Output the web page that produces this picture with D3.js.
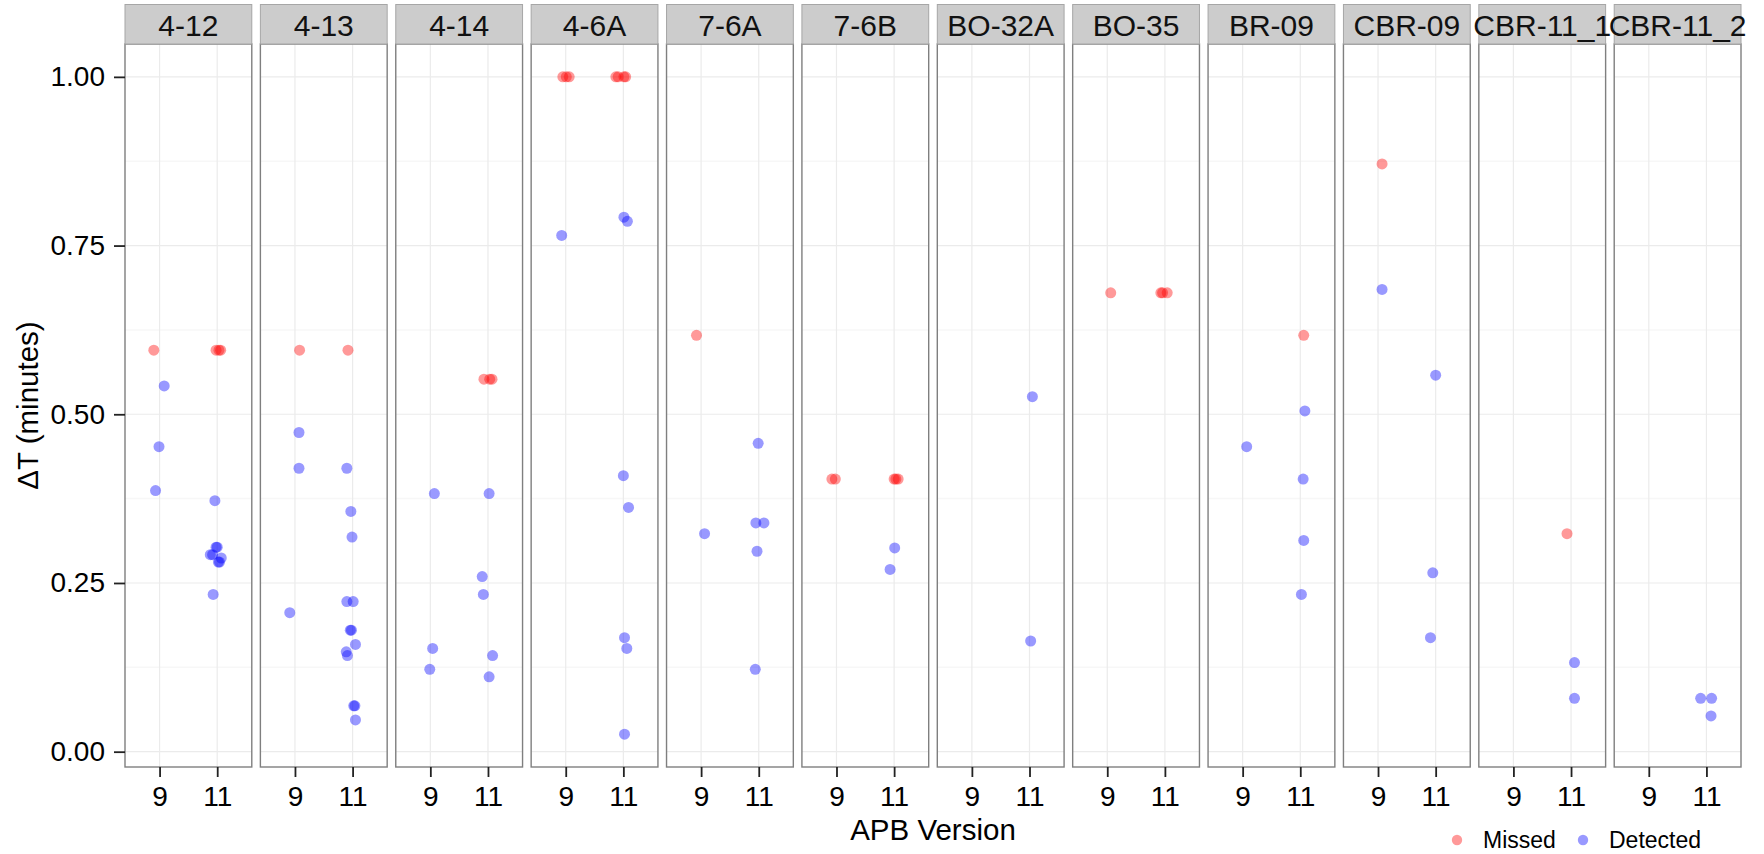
<!DOCTYPE html>
<html>
<head>
<meta charset="utf-8">
<script src="https://cdn.jsdelivr.net/npm/d3@7"></script>
<style>
  body { margin: 0; background: #fff; }
  svg { display: block; font-family: Arial, "Liberation Sans", sans-serif; }
</style>
</head>
<body>
<svg id="chart" width="1764" height="854"></svg>
<script>
// ---- data ---------------------------------------------------------------
const facets = ["4-12", "4-13", "4-14", "4-6A", "7-6A", "7-6B",
                "BO-32A", "BO-35", "BR-09", "CBR-09", "CBR-11_1", "CBR-11_2"];
const versions = ["9", "11"];
const yTickValues = [0, 0.25, 0.5, 0.75, 1];
const statusNames = ["Missed", "Detected"];
const statusColors = ["#FF0000", "#0000FF"];

// each row: [APB version, status, ΔT (minutes), jitter (fraction of a category step)]
const pts412 = [
  ["9", "Missed", 0.595, -0.10],
  ["11", "Missed", 0.595, -0.02], ["11", "Missed", 0.595, 0.03], ["11", "Missed", 0.595, 0.06],
  ["9", "Detected", 0.542, 0.08], ["9", "Detected", 0.452, -0.01], ["9", "Detected", 0.387, -0.07],
  ["11", "Detected", 0.372, -0.04],
  ["11", "Detected", 0.303, -0.02], ["11", "Detected", 0.303, 0.00],
  ["11", "Detected", 0.292, -0.12], ["11", "Detected", 0.292, -0.08],
  ["11", "Detected", 0.287, 0.07],
  ["11", "Detected", 0.281, 0.02], ["11", "Detected", 0.281, 0.04],
  ["11", "Detected", 0.233, -0.07]
];
const pts413 = [
  ["9", "Missed", 0.595, 0.08], ["11", "Missed", 0.595, -0.08],
  ["9", "Detected", 0.473, 0.07], ["9", "Detected", 0.420, 0.07], ["9", "Detected", 0.206, -0.09],
  ["11", "Detected", 0.420, -0.10], ["11", "Detected", 0.356, -0.03], ["11", "Detected", 0.318, -0.01],
  ["11", "Detected", 0.2225, -0.10], ["11", "Detected", 0.2225, 0.01],
  ["11", "Detected", 0.180, -0.04], ["11", "Detected", 0.180, -0.02],
  ["11", "Detected", 0.159, 0.05],
  ["11", "Detected", 0.148, -0.11], ["11", "Detected", 0.1425, -0.09],
  ["11", "Detected", 0.068, 0.02], ["11", "Detected", 0.068, 0.04],
  ["11", "Detected", 0.047, 0.05]
];
const pts414 = [
  ["11", "Missed", 0.552, -0.07], ["11", "Missed", 0.552, 0.03], ["11", "Missed", 0.552, 0.07],
  ["9", "Detected", 0.3825, 0.07], ["9", "Detected", 0.153, 0.04], ["9", "Detected", 0.122, -0.01],
  ["11", "Detected", 0.3825, 0.02], ["11", "Detected", 0.2595, -0.10], ["11", "Detected", 0.233, -0.08],
  ["11", "Detected", 0.1425, 0.08], ["11", "Detected", 0.111, 0.02]
];
const pts46A = [
  ["9", "Missed", 1.0, -0.05], ["9", "Missed", 1.0, 0.01], ["9", "Missed", 1.0, 0.06],
  ["11", "Missed", 1.0, -0.13], ["11", "Missed", 1.0, -0.09], ["11", "Missed", 1.0, 0.01], ["11", "Missed", 1.0, 0.04],
  ["9", "Detected", 0.765, -0.07],
  ["11", "Detected", 0.792, 0.01], ["11", "Detected", 0.786, 0.07],
  ["11", "Detected", 0.409, 0.00], ["11", "Detected", 0.362, 0.09],
  ["11", "Detected", 0.169, 0.02], ["11", "Detected", 0.153, 0.06],
  ["11", "Detected", 0.026, 0.02]
];
const pts76A = [
  ["9", "Missed", 0.617, -0.08],
  ["9", "Detected", 0.323, 0.06],
  ["11", "Detected", 0.457, -0.01], ["11", "Detected", 0.339, -0.05], ["11", "Detected", 0.339, 0.09],
  ["11", "Detected", 0.297, -0.03], ["11", "Detected", 0.122, -0.06]
];
const pts76B = [
  ["9", "Missed", 0.404, -0.08], ["9", "Missed", 0.404, -0.02],
  ["11", "Missed", 0.404, 0.00], ["11", "Missed", 0.404, 0.03], ["11", "Missed", 0.404, 0.07],
  ["11", "Detected", 0.302, 0.01], ["11", "Detected", 0.270, -0.07]
];
const ptsBO32A = [
  ["11", "Detected", 0.526, 0.05], ["11", "Detected", 0.164, 0.02]
];
const ptsBO35 = [
  ["9", "Missed", 0.680, 0.06],
  ["11", "Missed", 0.680, -0.07], ["11", "Missed", 0.680, -0.04], ["11", "Missed", 0.680, 0.04]
];
const ptsBR09 = [
  ["11", "Missed", 0.617, 0.06],
  ["9", "Detected", 0.452, 0.07],
  ["11", "Detected", 0.505, 0.08], ["11", "Detected", 0.404, 0.05],
  ["11", "Detected", 0.313, 0.06], ["11", "Detected", 0.233, 0.02]
];
const ptsCBR09 = [
  ["9", "Missed", 0.871, 0.07],
  ["9", "Detected", 0.685, 0.07],
  ["11", "Detected", 0.558, 0.00], ["11", "Detected", 0.265, -0.05], ["11", "Detected", 0.169, -0.09]
];
const ptsCBR11_1 = [
  ["11", "Missed", 0.323, -0.07],
  ["11", "Detected", 0.132, 0.06], ["11", "Detected", 0.079, 0.06]
];
const ptsCBR11_2 = [
  ["11", "Detected", 0.079, -0.10], ["11", "Detected", 0.079, 0.09], ["11", "Detected", 0.053, 0.08]
];
const facetPoints = [pts412, pts413, pts414, pts46A, pts76A, pts76B,
                     ptsBO32A, ptsBO35, ptsBR09, ptsCBR09, ptsCBR11_1, ptsCBR11_2];

// ---- layout -------------------------------------------------------------
const svg = d3.select("#chart");
const panelLeft = 125, panelRight = 1741;
const stripTop = 4.5, panelTop = 44, panelBottom = 767;
const fontFamily = 'Arial, "Liberation Sans", sans-serif';
const pointRadius = 5.5, pointAlpha = 0.4;
const stripFont = 30, tickFont = 28, titleFont = 29.5, legendFont = 23;

const fx = d3.scaleBand().domain(facets).range([panelLeft, panelRight])
  .paddingInner(0.0635).paddingOuter(0);
const pw = fx.bandwidth();
const xv = d3.scalePoint().domain(versions).range([0, pw]).padding(0.6);

const allDelta = facetPoints.flat().map(d => d[2]);
const ext = d3.extent(allDelta);
const pad = (ext[1] - ext[0]) * 0.05;
const y = d3.scaleLinear().domain([ext[0] - pad, ext[1] + pad]).range([panelBottom, panelTop]);
const minorTicks = d3.pairs(yTickValues).map(([a, b]) => (a + b) / 2);

const color = d3.scaleOrdinal().domain(statusNames).range(statusColors);

facets.forEach((f, i) => {
  const g = svg.append("g").attr("transform", `translate(${fx(f)},0)`);

  // panel background + grid
  g.append("rect")
    .attr("x", 0).attr("y", panelTop).attr("width", pw).attr("height", panelBottom - panelTop)
    .attr("fill", "#fff");
  g.selectAll(".minor").data(minorTicks).join("line")
    .attr("x1", 0).attr("x2", pw).attr("y1", d => y(d)).attr("y2", d => y(d))
    .attr("stroke", "#F7F7F7").attr("stroke-width", 1.5);
  g.selectAll(".majorY").data(yTickValues).join("line")
    .attr("x1", 0).attr("x2", pw).attr("y1", d => y(d)).attr("y2", d => y(d))
    .attr("stroke", "#EBEBEB").attr("stroke-width", 1.2);
  g.selectAll(".majorX").data(versions).join("line")
    .attr("x1", d => xv(d)).attr("x2", d => xv(d)).attr("y1", panelTop).attr("y2", panelBottom)
    .attr("stroke", "#EBEBEB").attr("stroke-width", 1.2);

  // points
  g.selectAll("circle.pt").data(facetPoints[i]).join("circle")
    .attr("class", "pt")
    .attr("cx", d => xv(d[0]) + d[3] * xv.step())
    .attr("cy", d => y(d[2]))
    .attr("r", pointRadius)
    .attr("fill", d => color(d[1]))
    .attr("fill-opacity", pointAlpha);

  // panel border
  g.append("rect")
    .attr("x", 0).attr("y", panelTop).attr("width", pw).attr("height", panelBottom - panelTop)
    .attr("fill", "none").attr("stroke", "#7F7F7F").attr("stroke-width", 1.4);

  // strip
  g.append("rect")
    .attr("x", 0).attr("y", stripTop).attr("width", pw).attr("height", panelTop - stripTop)
    .attr("fill", "#CCCCCC").attr("stroke", "#A6A6A6").attr("stroke-width", 1);

  // x axis
  const ax = g.append("g").attr("transform", `translate(0,${panelBottom})`)
    .call(d3.axisBottom(xv).tickSize(10).tickPadding(9));
  ax.select(".domain").remove();
  ax.selectAll("line").attr("stroke", "#222").attr("stroke-width", 1.8);
  ax.selectAll("text").attr("font-size", tickFont).attr("font-family", fontFamily).attr("fill", "#000");

  // y axis on the first panel only
  if (i === 0) {
    const ay = g.append("g")
      .call(d3.axisLeft(y).tickValues(yTickValues).tickFormat(d3.format(".2f"))
        .tickSize(11).tickPadding(9));
    ay.select(".domain").remove();
    ay.selectAll("line").attr("stroke", "#222").attr("stroke-width", 1.8);
    ay.selectAll("text").attr("font-size", tickFont).attr("font-family", fontFamily).attr("fill", "#000");
  }
});

// strip labels drawn last so long names may run past their strip
facets.forEach(f => {
  svg.append("text")
    .attr("x", fx(f) + pw / 2).attr("y", (stripTop + panelTop) / 2 + 1)
    .attr("text-anchor", "middle").attr("dominant-baseline", "central")
    .attr("font-size", stripFont).attr("fill", "#111").text(f);
});

// axis titles
svg.append("text")
  .attr("x", (panelLeft + panelRight) / 2).attr("y", 829)
  .attr("text-anchor", "middle").attr("dominant-baseline", "central")
  .attr("font-size", titleFont).attr("fill", "#000").text("APB Version");
svg.append("text")
  .attr("transform", `translate(27,${(panelTop + panelBottom) / 2}) rotate(-90)`)
  .attr("text-anchor", "middle").attr("dominant-baseline", "central")
  .attr("font-size", titleFont).attr("fill", "#000").text("ΔT (minutes)");

// legend
const legendX = [1457, 1583], legendY = 840;
const lg = svg.append("g");
statusNames.forEach((s, k) => {
  lg.append("circle").attr("cx", legendX[k]).attr("cy", legendY).attr("r", 5.2)
    .attr("fill", color(s)).attr("fill-opacity", pointAlpha);
  lg.append("text").attr("x", legendX[k] + 26).attr("y", legendY)
    .attr("dominant-baseline", "central").attr("font-size", legendFont).attr("fill", "#000").text(s);
});
</script>
</body>
</html>
